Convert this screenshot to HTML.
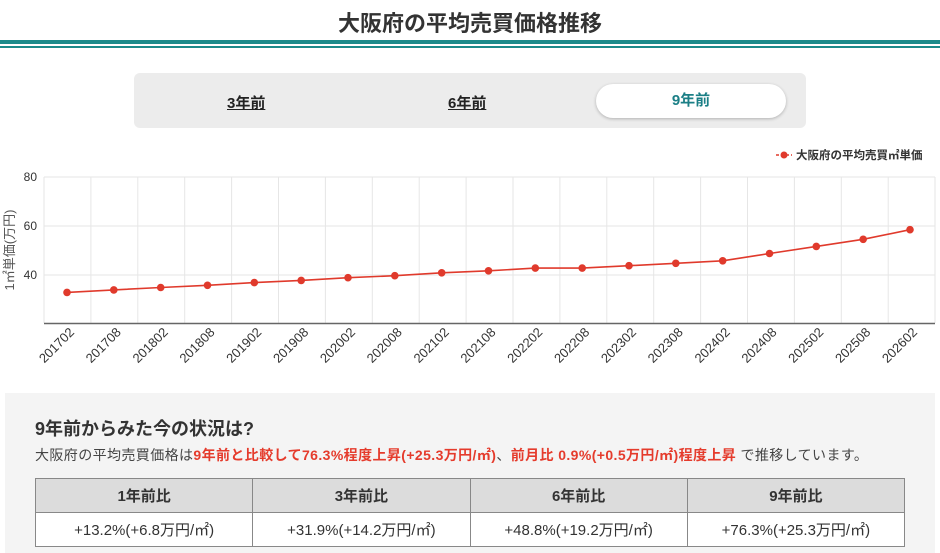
<!DOCTYPE html>
<html><head><meta charset="utf-8"><style>
body{margin:0;width:940px;height:548px;background:#fff;font-family:"Liberation Sans","Noto Sans CJK JP",sans-serif;position:relative;overflow:hidden;color:#333}
.a{position:absolute}
.title{left:0;width:940px;top:6px;text-align:center;font-size:22px;font-weight:bold;color:#333}
.tabs{left:134px;top:73px;width:672px;height:55px;background:#ececec;border-radius:6px}
.tab{font-size:15px;font-weight:bold;text-decoration:underline;color:#222}
.on{left:596px;top:84px;width:190px;height:34px;background:#fff;border-radius:17px;box-shadow:0 1px 3px rgba(0,0,0,.25);text-align:center;line-height:34px;color:#1b7f86;font-weight:bold;font-size:15px}
.box{left:5px;top:393px;width:930px;height:160px;background:#f4f4f4}
table{position:absolute;left:35px;top:478px;width:870px;border-collapse:collapse;font-size:15px;table-layout:fixed}
td,th{border:1px solid #888;text-align:center;height:31px}
th{background:#dcdcdc;font-weight:bold}
td{background:#fff}
.r{color:#e53b2c;font-weight:bold}
</style></head><body>
<div class="a title">大阪府の平均売買価格推移</div>
<div class="a" style="left:0;top:40px;width:940px;height:4px;background:#1b8a8a"></div>
<div class="a" style="left:0;top:46px;width:940px;height:2px;background:#1b8a8a"></div>
<div class="a tabs"></div>
<div class="a tab" style="left:227px;top:92px">3年前</div>
<div class="a tab" style="left:448px;top:92px">6年前</div>
<div class="a on">9年前</div>
<svg class="a" style="left:0;top:0" width="940" height="395" font-family="Liberation Sans, Noto Sans CJK JP, sans-serif">
<g stroke="#e6e6e6" stroke-width="1">
<line x1="44" y1="177" x2="935" y2="177"/><line x1="44" y1="226" x2="935" y2="226"/><line x1="44" y1="275" x2="935" y2="275"/>
<line x1="44" y1="177" x2="44" y2="323"/>
<line x1="90.9" y1="177" x2="90.9" y2="323"/><line x1="137.8" y1="177" x2="137.8" y2="323"/><line x1="184.7" y1="177" x2="184.7" y2="323"/><line x1="231.6" y1="177" x2="231.6" y2="323"/><line x1="278.5" y1="177" x2="278.5" y2="323"/><line x1="325.4" y1="177" x2="325.4" y2="323"/><line x1="372.3" y1="177" x2="372.3" y2="323"/><line x1="419.2" y1="177" x2="419.2" y2="323"/><line x1="466.1" y1="177" x2="466.1" y2="323"/><line x1="513" y1="177" x2="513" y2="323"/><line x1="559.9" y1="177" x2="559.9" y2="323"/><line x1="606.8" y1="177" x2="606.8" y2="323"/><line x1="653.7" y1="177" x2="653.7" y2="323"/><line x1="700.6" y1="177" x2="700.6" y2="323"/><line x1="747.5" y1="177" x2="747.5" y2="323"/><line x1="794.4" y1="177" x2="794.4" y2="323"/><line x1="841.3" y1="177" x2="841.3" y2="323"/><line x1="888.2" y1="177" x2="888.2" y2="323"/><line x1="935" y1="177" x2="935" y2="323"/>
</g>
<line x1="44" y1="323.5" x2="935" y2="323.5" stroke="#666" stroke-width="1.5"/>
<g font-size="12" fill="#333" text-anchor="end"><text x="37" y="181">80</text><text x="37" y="230">60</text><text x="37" y="279">40</text></g>
<text transform="translate(14,250) rotate(-90)" font-size="13" fill="#555" text-anchor="middle">1㎡単価(万円)</text>
<polyline fill="none" stroke="#e03a2c" stroke-width="1.6" points="67,292.4 113.8,289.9 160.7,287.5 207.5,285.3 254.3,282.6 301.2,280.4 348,277.7 394.8,275.7 441.7,272.8 488.5,270.8 535.3,268.1 582.2,268.1 629,265.7 675.8,263.3 722.7,260.8 769.5,253.5 816.3,246.4 863.2,239.3 910,229.7"/>
<g fill="#e03a2c"><circle cx="67" cy="292.4" r="3.8"/><circle cx="113.8" cy="289.9" r="3.8"/><circle cx="160.7" cy="287.5" r="3.8"/><circle cx="207.5" cy="285.3" r="3.8"/><circle cx="254.3" cy="282.6" r="3.8"/><circle cx="301.2" cy="280.4" r="3.8"/><circle cx="348" cy="277.7" r="3.8"/><circle cx="394.8" cy="275.7" r="3.8"/><circle cx="441.7" cy="272.8" r="3.8"/><circle cx="488.5" cy="270.8" r="3.8"/><circle cx="535.3" cy="268.1" r="3.8"/><circle cx="582.2" cy="268.1" r="3.8"/><circle cx="629" cy="265.7" r="3.8"/><circle cx="675.8" cy="263.3" r="3.8"/><circle cx="722.7" cy="260.8" r="3.8"/><circle cx="769.5" cy="253.5" r="3.8"/><circle cx="816.3" cy="246.4" r="3.8"/><circle cx="863.2" cy="239.3" r="3.8"/><circle cx="910" cy="229.7" r="3.8"/></g>
<g font-size="13" fill="#333" text-anchor="end">
<text transform="translate(75,333) rotate(-45)">201702</text><text transform="translate(121.8,333) rotate(-45)">201708</text><text transform="translate(168.7,333) rotate(-45)">201802</text><text transform="translate(215.5,333) rotate(-45)">201808</text><text transform="translate(262.3,333) rotate(-45)">201902</text><text transform="translate(309.2,333) rotate(-45)">201908</text><text transform="translate(356,333) rotate(-45)">202002</text><text transform="translate(402.8,333) rotate(-45)">202008</text><text transform="translate(449.7,333) rotate(-45)">202102</text><text transform="translate(496.5,333) rotate(-45)">202108</text><text transform="translate(543.3,333) rotate(-45)">202202</text><text transform="translate(590.2,333) rotate(-45)">202208</text><text transform="translate(637,333) rotate(-45)">202302</text><text transform="translate(683.8,333) rotate(-45)">202308</text><text transform="translate(730.7,333) rotate(-45)">202402</text><text transform="translate(777.5,333) rotate(-45)">202408</text><text transform="translate(824.3,333) rotate(-45)">202502</text><text transform="translate(871.2,333) rotate(-45)">202508</text><text transform="translate(918,333) rotate(-45)">202602</text>
</g>
<line x1="776" y1="155" x2="792" y2="155" stroke="#e03a2c" stroke-width="1.5" stroke-dasharray="3,2"/>
<circle cx="784" cy="155" r="3.5" fill="#e03a2c"/>
<text x="796" y="159" font-size="11.5" font-weight="bold" fill="#333">大阪府の平均売買㎡単価</text>
</svg>
<div class="a box"></div>
<div class="a" style="left:35px;top:415px;font-size:18px;font-weight:bold;color:#333">9年前からみた今の状況は?</div>
<div class="a" style="left:35px;top:445px;font-size:14px;letter-spacing:0.4px;color:#444;white-space:nowrap">大阪府の平均売買価格は<span class="r">9年前と比較して76.3%程度上昇(+25.3万円/㎡)</span>、<span class="r">前月比 0.9%(+0.5万円/㎡)程度上昇</span> で推移しています。</div>
<table><tr><th>1年前比</th><th>3年前比</th><th>6年前比</th><th>9年前比</th></tr>
<tr><td>+13.2%(+6.8万円/㎡)</td><td>+31.9%(+14.2万円/㎡)</td><td>+48.8%(+19.2万円/㎡)</td><td>+76.3%(+25.3万円/㎡)</td></tr></table>
</body></html>
